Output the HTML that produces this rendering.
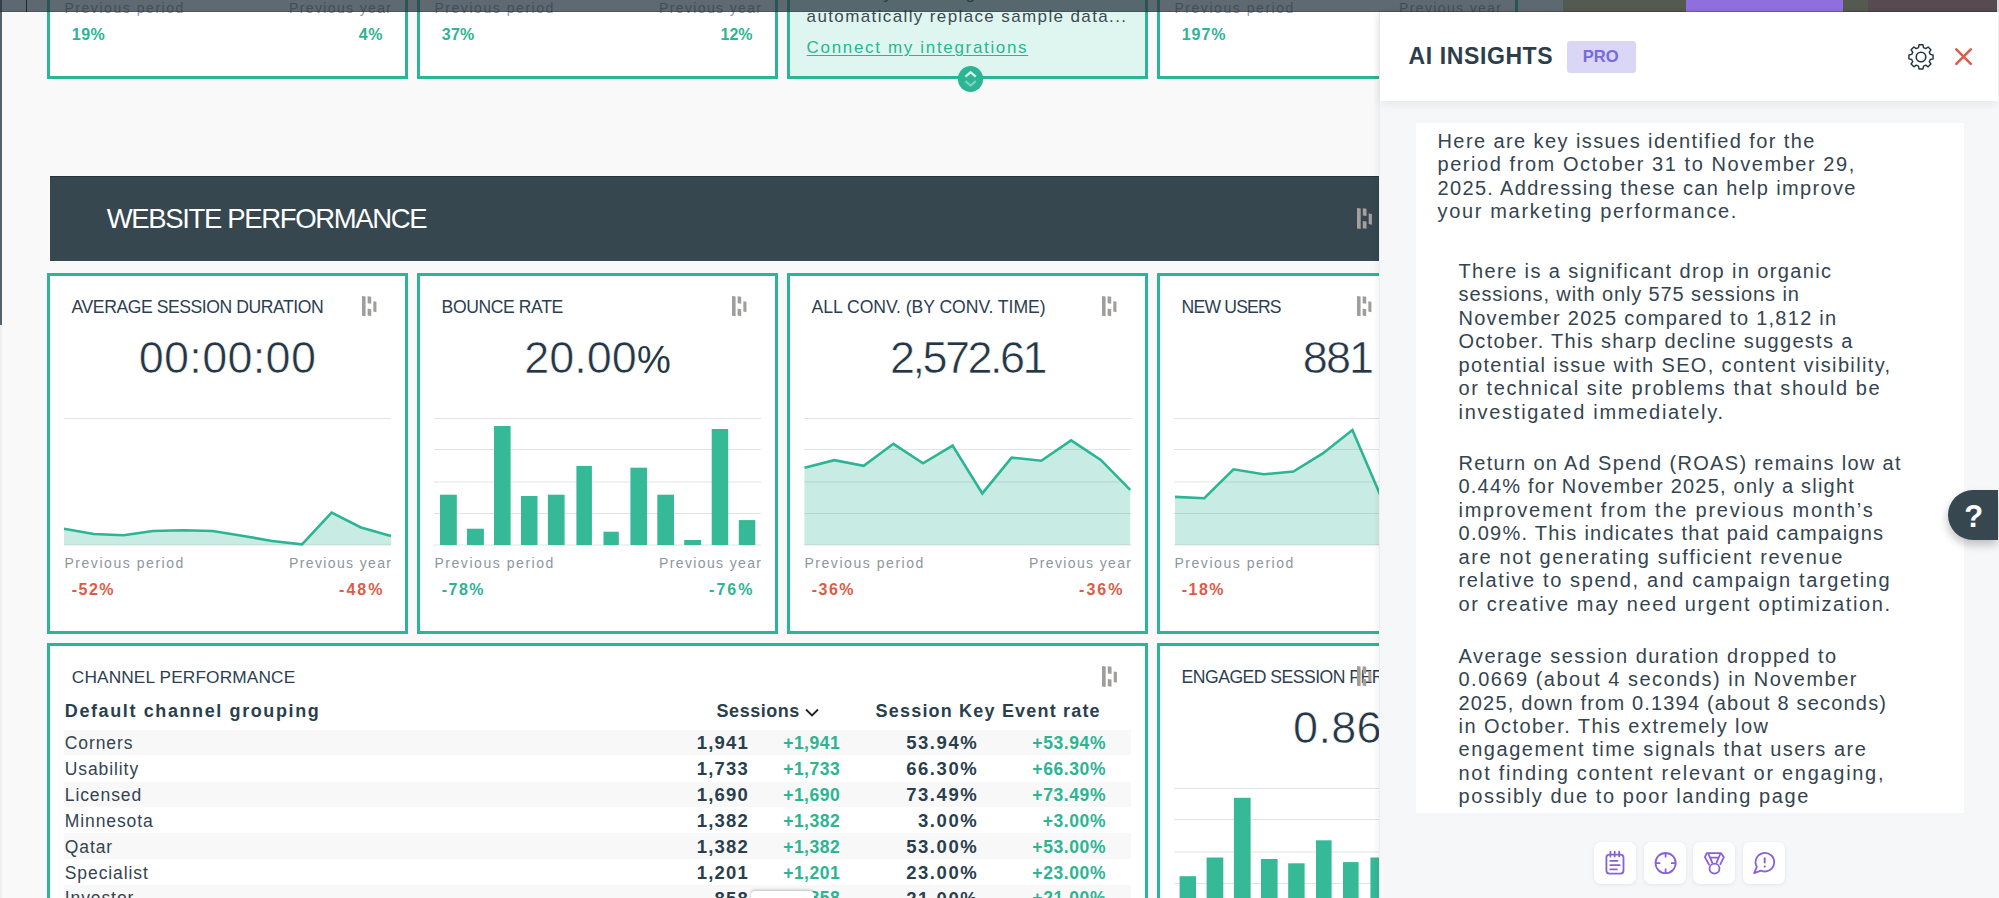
<!DOCTYPE html>
<html><head><meta charset="utf-8"><title>Dashboard</title>
<style>
*{box-sizing:border-box;margin:0;padding:0}
html,body{width:1999px;height:898px;overflow:hidden;background:#f9f9f9;font-family:"Liberation Sans", sans-serif;position:relative}
.t{position:absolute;white-space:pre;line-height:1}
.a{position:absolute}
.card{position:absolute;width:361px;height:361px;border:3px solid #2bb594;background:#fff}
</style></head><body>
<div class='a' style='left:0;top:0;width:1.6px;height:325px;background:#56626b'></div>
<div class='a' style='left:0;top:325px;width:1.6px;height:573px;background:#efefef'></div>
<div class='card' style='left:47px;top:-282px;background:#fff'></div>
<div class='t' style='left:64.40px;top:1.10px;font-size:14px;font-weight:400;color:#8d969e;letter-spacing:1.551px;'>Previous period</div>
<div class='t' style='left:71.80px;top:26.90px;font-size:16px;font-weight:700;color:#2db493;letter-spacing:0.484px;'>19%</div>
<div class='t' style='left:289.00px;top:1.10px;font-size:14px;font-weight:400;color:#8d969e;letter-spacing:1.367px;'>Previous year</div>
<div class='t' style='left:358.80px;top:26.90px;font-size:16px;font-weight:700;color:#2db493;letter-spacing:0.575px;'>4%</div>
<div class='card' style='left:417px;top:-282px;background:#fff'></div>
<div class='t' style='left:434.40px;top:1.10px;font-size:14px;font-weight:400;color:#8d969e;letter-spacing:1.551px;'>Previous period</div>
<div class='t' style='left:441.80px;top:26.90px;font-size:16px;font-weight:700;color:#2db493;letter-spacing:0.234px;'>37%</div>
<div class='t' style='left:659.00px;top:1.10px;font-size:14px;font-weight:400;color:#8d969e;letter-spacing:1.367px;'>Previous year</div>
<div class='t' style='left:720.50px;top:26.90px;font-size:16px;font-weight:700;color:#2db493;letter-spacing:-0.016px;'>12%</div>
<div class='card' style='left:787px;top:-282px;background:#dff5ef'></div>
<div class='t' style='left:806.60px;top:7.95px;font-size:17px;font-weight:400;color:#3d4a52;letter-spacing:1.377px;'>automatically replace sample data...</div>
<div class='t' style='left:883.50px;top:-15.45px;font-size:17px;font-weight:400;color:#3d4a52;letter-spacing:0.000px;'>y</div>
<div class='t' style='left:965.50px;top:-15.45px;font-size:17px;font-weight:400;color:#3d4a52;letter-spacing:0.000px;'>g</div>
<div class='t' style='left:806.60px;top:39.15px;font-size:17px;font-weight:400;color:#2bb594;letter-spacing:1.667px;text-decoration:underline;text-underline-offset:2px;'>Connect my integrations</div>
<div class='card' style='left:1157px;top:-282px;background:#fff'></div>
<div class='t' style='left:1174.40px;top:1.10px;font-size:14px;font-weight:400;color:#8d969e;letter-spacing:1.551px;'>Previous period</div>
<div class='t' style='left:1181.80px;top:26.90px;font-size:16px;font-weight:700;color:#2db493;letter-spacing:0.926px;'>197%</div>
<div class='t' style='left:1399.00px;top:1.10px;font-size:14px;font-weight:400;color:#8d969e;letter-spacing:1.367px;'>Previous year</div>
<div class='a' style='left:957.8px;top:66px;width:25.5px;height:25.5px;border-radius:50%;background:#2bb594'></div>
<svg class='a' style='left:957.8px;top:66px' width='26' height='26' viewBox='0 0 26 26'><path d='M7.4 10.7 L12.6 6.3 L17.8 10.7' fill='none' stroke='#d6f1e9' stroke-width='2.2'/><path d='M7.4 15.2 L12.6 19.5 L17.8 15.2' fill='none' stroke='#7fd3bd' stroke-width='2.2'/></svg>
<div class='a' style='left:50px;top:176px;width:1400px;height:85px;background:#37474f;border-top:1px solid #24343c'></div>
<div class='t' style='left:106.70px;top:204.82px;font-size:27.5px;font-weight:400;color:#ffffff;letter-spacing:-1.351px;'>WEBSITE PERFORMANCE</div>
<svg class='a' style='left:1357px;top:208px' width='16.0' height='22.0' viewBox='0 0 16 22'><g fill='#a5a09e'><polygon points='0,0 3.7,0.6 3.7,21 0,20.4'/><polygon points='5.8,0.2 9.5,0.8 9.5,8 5.8,7.4'/><polygon points='5.8,13 9.5,13.6 9.5,20.8 5.8,20.2'/><polygon points='11.7,5.4 14.9,6.0 14.9,16.7 11.7,16.099999999999998'/></g></svg>
<div class='card' style='left:47px;top:273px;background:#fff'></div>
<div class='t' style='left:71.60px;top:298.84px;font-size:17.6px;font-weight:400;color:#2c3e50;letter-spacing:-0.449px;'>AVERAGE SESSION DURATION</div>
<svg class='a' style='left:361.5px;top:296.3px' width='15.5' height='21.3' viewBox='0 0 16 22'><g fill='#a19d9b'><polygon points='0,0 3.7,0.6 3.7,21 0,20.4'/><polygon points='5.8,0.2 9.5,0.8 9.5,8 5.8,7.4'/><polygon points='5.8,13 9.5,13.6 9.5,20.8 5.8,20.2'/><polygon points='11.7,5.4 14.9,6.0 14.9,16.7 11.7,16.099999999999998'/></g></svg>
<div class='t val' style='left:47px;width:361px;top:335.05px;font-size:45px;color:#253746;text-align:center;letter-spacing:0.3px;-webkit-text-stroke:0.6px #fff'>00:00:00</div>
<svg class='a' style='left:64px;top:418px;overflow:visible' width='327' height='128' viewBox='0 0 327 128'>
<line x1='0' x2='327' y1='0.5' y2='0.5' stroke='#e3e3e3' stroke-width='1.2'/><line x1='0' x2='327' y1='127' y2='127' stroke='#e3e3e3' stroke-width='1.2'/>
<polygon points='0.0,127 0.0,110.7 29.7,116.0 59.5,117.2 89.0,113.0 119.0,112.3 148.6,113.0 178.0,117.7 208.0,123.0 238.0,126.3 267.6,94.7 297.0,109.5 327.0,118.0 327.0,127' fill='rgba(43,181,148,0.26)'/>
<polyline points='0.0,110.7 29.7,116.0 59.5,117.2 89.0,113.0 119.0,112.3 148.6,113.0 178.0,117.7 208.0,123.0 238.0,126.3 267.6,94.7 297.0,109.5 327.0,118.0' fill='none' stroke='#2bb594' stroke-width='2.6' stroke-linejoin='miter'/>
</svg>
<div class='t' style='left:64.40px;top:556.10px;font-size:14px;font-weight:400;color:#8d969e;letter-spacing:1.551px;'>Previous period</div>
<div class='t' style='left:71.80px;top:581.90px;font-size:16px;font-weight:700;color:#e05a47;letter-spacing:1.447px;'>-52%</div>
<div class='t' style='left:289.00px;top:556.10px;font-size:14px;font-weight:400;color:#8d969e;letter-spacing:1.367px;'>Previous year</div>
<div class='t' style='left:339.00px;top:581.90px;font-size:16px;font-weight:700;color:#e05a47;letter-spacing:2.047px;'>-48%</div>
<div class='card' style='left:417px;top:273px;background:#fff'></div>
<div class='t' style='left:441.60px;top:298.84px;font-size:17.6px;font-weight:400;color:#2c3e50;letter-spacing:-0.418px;'>BOUNCE RATE</div>
<svg class='a' style='left:731.5px;top:296.3px' width='15.5' height='21.3' viewBox='0 0 16 22'><g fill='#a19d9b'><polygon points='0,0 3.7,0.6 3.7,21 0,20.4'/><polygon points='5.8,0.2 9.5,0.8 9.5,8 5.8,7.4'/><polygon points='5.8,13 9.5,13.6 9.5,20.8 5.8,20.2'/><polygon points='11.7,5.4 14.9,6.0 14.9,16.7 11.7,16.099999999999998'/></g></svg>
<div class='t val' style='left:417px;width:361px;top:335.05px;font-size:45px;color:#253746;text-align:center;letter-spacing:0.0px;-webkit-text-stroke:0.6px #fff'>20.00<span style='font-size:38px;-webkit-text-stroke:0'>%</span></div>
<svg class='a' style='left:434px;top:418px;overflow:visible' width='327' height='128' viewBox='0 0 327 128'>
<line x1='0' x2='327' y1='0.5' y2='0.5' stroke='#e3e3e3' stroke-width='1.2'/><line x1='0' x2='327' y1='31.5' y2='31.5' stroke='#e3e3e3' stroke-width='1.2'/><line x1='0' x2='327' y1='64' y2='64' stroke='#e3e3e3' stroke-width='1.2'/><line x1='0' x2='327' y1='95.5' y2='95.5' stroke='#e3e3e3' stroke-width='1.2'/><line x1='0' x2='327' y1='127' y2='127' stroke='#e3e3e3' stroke-width='1.2'/><rect x='6.0' y='76.7' width='16.8' height='50.3' fill='#36b996'/><rect x='33.0' y='110.7' width='16.9' height='16.3' fill='#36b996'/><rect x='60.0' y='8.0' width='16.6' height='119.0' fill='#36b996'/><rect x='87.0' y='78.0' width='16.5' height='49.0' fill='#36b996'/><rect x='113.9' y='76.7' width='16.7' height='50.3' fill='#36b996'/><rect x='142.4' y='47.9' width='15.5' height='79.1' fill='#36b996'/><rect x='169.5' y='113.7' width='15.3' height='13.3' fill='#36b996'/><rect x='196.4' y='49.7' width='16.7' height='77.3' fill='#36b996'/><rect x='223.3' y='76.7' width='16.7' height='50.3' fill='#36b996'/><rect x='250.2' y='122.0' width='16.9' height='5.0' fill='#36b996'/><rect x='277.7' y='11.0' width='16.5' height='116.0' fill='#36b996'/><rect x='304.8' y='102.1' width='16.5' height='24.9' fill='#36b996'/></svg>
<div class='t' style='left:434.40px;top:556.10px;font-size:14px;font-weight:400;color:#8d969e;letter-spacing:1.551px;'>Previous period</div>
<div class='t' style='left:441.80px;top:581.90px;font-size:16px;font-weight:700;color:#2db493;letter-spacing:1.447px;'>-78%</div>
<div class='t' style='left:659.00px;top:556.10px;font-size:14px;font-weight:400;color:#8d969e;letter-spacing:1.367px;'>Previous year</div>
<div class='t' style='left:709.00px;top:581.90px;font-size:16px;font-weight:700;color:#2db493;letter-spacing:2.047px;'>-76%</div>
<div class='card' style='left:787px;top:273px;background:#fff'></div>
<div class='t' style='left:811.60px;top:298.84px;font-size:17.6px;font-weight:400;color:#2c3e50;letter-spacing:-0.042px;'>ALL CONV. (BY CONV. TIME)</div>
<svg class='a' style='left:1101.5px;top:296.3px' width='15.5' height='21.3' viewBox='0 0 16 22'><g fill='#a19d9b'><polygon points='0,0 3.7,0.6 3.7,21 0,20.4'/><polygon points='5.8,0.2 9.5,0.8 9.5,8 5.8,7.4'/><polygon points='5.8,13 9.5,13.6 9.5,20.8 5.8,20.2'/><polygon points='11.7,5.4 14.9,6.0 14.9,16.7 11.7,16.099999999999998'/></g></svg>
<div class='t val' style='left:787px;width:361px;top:335.05px;font-size:45px;color:#253746;text-align:center;letter-spacing:-2.5px;-webkit-text-stroke:0.6px #fff'>2,572.61</div>
<svg class='a' style='left:804px;top:418px;overflow:visible' width='327' height='128' viewBox='0 0 327 128'>
<line x1='0' x2='327' y1='0.5' y2='0.5' stroke='#e3e3e3' stroke-width='1.2'/><line x1='0' x2='327' y1='31.5' y2='31.5' stroke='#e3e3e3' stroke-width='1.2'/><line x1='0' x2='327' y1='64' y2='64' stroke='#e3e3e3' stroke-width='1.2'/><line x1='0' x2='327' y1='95.5' y2='95.5' stroke='#e3e3e3' stroke-width='1.2'/><line x1='0' x2='327' y1='127' y2='127' stroke='#e3e3e3' stroke-width='1.2'/>
<polygon points='0.5,127 0.5,49.7 30.4,42.2 59.7,47.8 89.4,25.8 119.0,45.3 148.6,27.6 178.3,75.4 207.6,39.6 237.3,42.7 267.1,22.4 296.8,41.9 326.2,71.9 326.2,127' fill='rgba(43,181,148,0.26)'/>
<polyline points='0.5,49.7 30.4,42.2 59.7,47.8 89.4,25.8 119.0,45.3 148.6,27.6 178.3,75.4 207.6,39.6 237.3,42.7 267.1,22.4 296.8,41.9 326.2,71.9' fill='none' stroke='#2bb594' stroke-width='2.6' stroke-linejoin='miter'/>
</svg>
<div class='t' style='left:804.40px;top:556.10px;font-size:14px;font-weight:400;color:#8d969e;letter-spacing:1.551px;'>Previous period</div>
<div class='t' style='left:811.80px;top:581.90px;font-size:16px;font-weight:700;color:#e05a47;letter-spacing:1.447px;'>-36%</div>
<div class='t' style='left:1029.00px;top:556.10px;font-size:14px;font-weight:400;color:#8d969e;letter-spacing:1.367px;'>Previous year</div>
<div class='t' style='left:1079.00px;top:581.90px;font-size:16px;font-weight:700;color:#e05a47;letter-spacing:2.047px;'>-36%</div>
<div class='card' style='left:1157px;top:273px;background:#fff'></div>
<div class='t' style='left:1181.60px;top:298.84px;font-size:17.6px;font-weight:400;color:#2c3e50;letter-spacing:-0.820px;'>NEW USERS</div>
<svg class='a' style='left:1357.2px;top:296.3px' width='15.5' height='21.3' viewBox='0 0 16 22'><g fill='#a19d9b'><polygon points='0,0 3.7,0.6 3.7,21 0,20.4'/><polygon points='5.8,0.2 9.5,0.8 9.5,8 5.8,7.4'/><polygon points='5.8,13 9.5,13.6 9.5,20.8 5.8,20.2'/><polygon points='11.7,5.4 14.9,6.0 14.9,16.7 11.7,16.099999999999998'/></g></svg>
<div class='t val' style='left:1157px;width:361px;top:335.05px;font-size:45px;color:#253746;text-align:center;letter-spacing:-1.8px;-webkit-text-stroke:0.6px #fff'>881</div>
<svg class='a' style='left:1174px;top:418px;overflow:visible' width='327' height='128' viewBox='0 0 327 128'>
<line x1='0' x2='327' y1='0.5' y2='0.5' stroke='#e3e3e3' stroke-width='1.2'/><line x1='0' x2='327' y1='31.5' y2='31.5' stroke='#e3e3e3' stroke-width='1.2'/><line x1='0' x2='327' y1='64' y2='64' stroke='#e3e3e3' stroke-width='1.2'/><line x1='0' x2='327' y1='95.5' y2='95.5' stroke='#e3e3e3' stroke-width='1.2'/><line x1='0' x2='327' y1='127' y2='127' stroke='#e3e3e3' stroke-width='1.2'/>
<polygon points='1.0,127 1.0,78.9 30.3,80.2 59.5,51.3 89.5,56.3 119.3,53.5 148.8,35.4 178.4,12.0 208.0,81.0 237.0,62.0 267.0,52.0 297.0,42.0 327.0,52.0 327.0,127' fill='rgba(43,181,148,0.26)'/>
<polyline points='1.0,78.9 30.3,80.2 59.5,51.3 89.5,56.3 119.3,53.5 148.8,35.4 178.4,12.0 208.0,81.0 237.0,62.0 267.0,52.0 297.0,42.0 327.0,52.0' fill='none' stroke='#2bb594' stroke-width='2.6' stroke-linejoin='miter'/>
</svg>
<div class='t' style='left:1174.40px;top:556.10px;font-size:14px;font-weight:400;color:#8d969e;letter-spacing:1.551px;'>Previous period</div>
<div class='t' style='left:1181.80px;top:581.90px;font-size:16px;font-weight:700;color:#e05a47;letter-spacing:1.447px;'>-18%</div>
<div class='t' style='left:1399.00px;top:556.10px;font-size:14px;font-weight:400;color:#8d969e;letter-spacing:1.367px;'>Previous year</div>
<div class='t' style='left:1449.00px;top:581.90px;font-size:16px;font-weight:700;color:#e05a47;letter-spacing:2.047px;'>-20%</div>
<div class='a' style='left:47px;top:643px;width:1101px;height:400px;border:3px solid #2bb594;background:#fff'></div>
<div class='t' style='left:71.80px;top:668.59px;font-size:17.3px;font-weight:400;color:#2c3e50;letter-spacing:0.124px;'>CHANNEL PERFORMANCE</div>
<svg class='a' style='left:1101.5px;top:666.4px' width='16.0' height='22.0' viewBox='0 0 16 22'><g fill='#a19d9b'><polygon points='0,0 3.7,0.6 3.7,21 0,20.4'/><polygon points='5.8,0.2 9.5,0.8 9.5,8 5.8,7.4'/><polygon points='5.8,13 9.5,13.6 9.5,20.8 5.8,20.2'/><polygon points='11.7,5.4 14.9,6.0 14.9,16.7 11.7,16.099999999999998'/></g></svg>
<div class='t' style='left:64.80px;top:701.70px;font-size:18px;font-weight:700;color:#2a3f4d;letter-spacing:1.608px;'>Default channel grouping</div>
<div class='t' style='left:716.60px;top:701.50px;font-size:18px;font-weight:700;color:#2a3f4d;letter-spacing:0.508px;'>Sessions</div>
<svg class='a' style='left:804px;top:707px' width='16' height='11' viewBox='0 0 16 11'><path d='M2 2.5 L8 8.5 L14 2.5' fill='none' stroke='#222' stroke-width='1.8'/></svg>
<div class='t' style='left:875.60px;top:701.70px;font-size:18px;font-weight:700;color:#2a3f4d;letter-spacing:1.186px;'>Session Key Event rate</div>
<div class='a' style='left:64px;top:729.8px;width:1067px;height:25.7px;background:#f8f8f8'></div>
<div class='t' style='left:64.80px;top:735.12px;font-size:17.5px;font-weight:400;color:#33444f;letter-spacing:0.900px;'>Corners</div>
<div class='t' style='left:696.80px;top:734.27px;font-size:18.5px;font-weight:700;color:#2a3f4d;letter-spacing:1.150px;'>1,941</div>
<div class='t' style='left:783.18px;top:735.12px;font-size:17.5px;font-weight:700;color:#2db493;letter-spacing:0.500px;'>+1,941</div>
<div class='t' style='left:906.20px;top:734.27px;font-size:18.5px;font-weight:700;color:#2a3f4d;letter-spacing:1.550px;'>53.94%</div>
<div class='t' style='left:1032.32px;top:735.12px;font-size:17.5px;font-weight:700;color:#2db493;letter-spacing:0.600px;'>+53.94%</div>
<div class='t' style='left:64.80px;top:761.00px;font-size:17.5px;font-weight:400;color:#33444f;letter-spacing:0.900px;'>Usability</div>
<div class='t' style='left:696.80px;top:760.15px;font-size:18.5px;font-weight:700;color:#2a3f4d;letter-spacing:1.150px;'>1,733</div>
<div class='t' style='left:783.18px;top:761.00px;font-size:17.5px;font-weight:700;color:#2db493;letter-spacing:0.500px;'>+1,733</div>
<div class='t' style='left:906.20px;top:760.15px;font-size:18.5px;font-weight:700;color:#2a3f4d;letter-spacing:1.550px;'>66.30%</div>
<div class='t' style='left:1032.32px;top:761.00px;font-size:17.5px;font-weight:700;color:#2db493;letter-spacing:0.600px;'>+66.30%</div>
<div class='a' style='left:64px;top:781.56px;width:1067px;height:25.7px;background:#f8f8f8'></div>
<div class='t' style='left:64.80px;top:786.88px;font-size:17.5px;font-weight:400;color:#33444f;letter-spacing:0.900px;'>Licensed</div>
<div class='t' style='left:696.80px;top:786.03px;font-size:18.5px;font-weight:700;color:#2a3f4d;letter-spacing:1.150px;'>1,690</div>
<div class='t' style='left:783.18px;top:786.88px;font-size:17.5px;font-weight:700;color:#2db493;letter-spacing:0.500px;'>+1,690</div>
<div class='t' style='left:906.20px;top:786.03px;font-size:18.5px;font-weight:700;color:#2a3f4d;letter-spacing:1.550px;'>73.49%</div>
<div class='t' style='left:1032.32px;top:786.88px;font-size:17.5px;font-weight:700;color:#2db493;letter-spacing:0.600px;'>+73.49%</div>
<div class='t' style='left:64.80px;top:812.76px;font-size:17.5px;font-weight:400;color:#33444f;letter-spacing:0.900px;'>Minnesota</div>
<div class='t' style='left:696.80px;top:811.91px;font-size:18.5px;font-weight:700;color:#2a3f4d;letter-spacing:1.150px;'>1,382</div>
<div class='t' style='left:783.18px;top:812.76px;font-size:17.5px;font-weight:700;color:#2db493;letter-spacing:0.500px;'>+1,382</div>
<div class='t' style='left:918.03px;top:811.91px;font-size:18.5px;font-weight:700;color:#2a3f4d;letter-spacing:1.550px;'>3.00%</div>
<div class='t' style='left:1042.66px;top:812.76px;font-size:17.5px;font-weight:700;color:#2db493;letter-spacing:0.600px;'>+3.00%</div>
<div class='a' style='left:64px;top:833.3199999999999px;width:1067px;height:25.7px;background:#f8f8f8'></div>
<div class='t' style='left:64.80px;top:838.64px;font-size:17.5px;font-weight:400;color:#33444f;letter-spacing:0.900px;'>Qatar</div>
<div class='t' style='left:696.80px;top:837.79px;font-size:18.5px;font-weight:700;color:#2a3f4d;letter-spacing:1.150px;'>1,382</div>
<div class='t' style='left:783.18px;top:838.64px;font-size:17.5px;font-weight:700;color:#2db493;letter-spacing:0.500px;'>+1,382</div>
<div class='t' style='left:906.20px;top:837.79px;font-size:18.5px;font-weight:700;color:#2a3f4d;letter-spacing:1.550px;'>53.00%</div>
<div class='t' style='left:1032.32px;top:838.64px;font-size:17.5px;font-weight:700;color:#2db493;letter-spacing:0.600px;'>+53.00%</div>
<div class='t' style='left:64.80px;top:864.52px;font-size:17.5px;font-weight:400;color:#33444f;letter-spacing:0.900px;'>Specialist</div>
<div class='t' style='left:696.80px;top:863.67px;font-size:18.5px;font-weight:700;color:#2a3f4d;letter-spacing:1.150px;'>1,201</div>
<div class='t' style='left:783.18px;top:864.52px;font-size:17.5px;font-weight:700;color:#2db493;letter-spacing:0.500px;'>+1,201</div>
<div class='t' style='left:906.20px;top:863.67px;font-size:18.5px;font-weight:700;color:#2a3f4d;letter-spacing:1.550px;'>23.00%</div>
<div class='t' style='left:1032.32px;top:864.52px;font-size:17.5px;font-weight:700;color:#2db493;letter-spacing:0.600px;'>+23.00%</div>
<div class='a' style='left:64px;top:885.0799999999999px;width:1067px;height:25.7px;background:#f8f8f8'></div>
<div class='t' style='left:64.80px;top:890.40px;font-size:17.5px;font-weight:400;color:#33444f;letter-spacing:0.900px;'>Investor</div>
<div class='t' style='left:714.53px;top:889.55px;font-size:18.5px;font-weight:700;color:#2a3f4d;letter-spacing:1.150px;'>858</div>
<div class='t' style='left:798.78px;top:890.40px;font-size:17.5px;font-weight:700;color:#2db493;letter-spacing:0.500px;'>+858</div>
<div class='t' style='left:906.20px;top:889.55px;font-size:18.5px;font-weight:700;color:#2a3f4d;letter-spacing:1.550px;'>21.00%</div>
<div class='t' style='left:1032.32px;top:890.40px;font-size:17.5px;font-weight:700;color:#2db493;letter-spacing:0.600px;'>+21.00%</div>
<div class='a' style='left:751px;top:890.5px;width:63px;height:20px;background:#fff;border-radius:4px;box-shadow:0 -1px 3px rgba(0,0,0,0.25)'></div>
<div class='card' style='left:1157px;top:643px;background:#fff'></div>
<div class='t' style='left:1181.60px;top:668.84px;font-size:17.6px;font-weight:400;color:#2c3e50;letter-spacing:-0.519px;'>ENGAGED SESSION PER USER</div>
<svg class='a' style='left:1357.2px;top:666.3px' width='15.5' height='21.3' viewBox='0 0 16 22'><g fill='#a19d9b'><polygon points='0,0 3.7,0.6 3.7,21 0,20.4'/><polygon points='5.8,0.2 9.5,0.8 9.5,8 5.8,7.4'/><polygon points='5.8,13 9.5,13.6 9.5,20.8 5.8,20.2'/><polygon points='11.7,5.4 14.9,6.0 14.9,16.7 11.7,16.099999999999998'/></g></svg>
<div class='t val' style='left:1157px;width:361px;top:705.05px;font-size:45px;color:#253746;text-align:center;letter-spacing:0.3px;-webkit-text-stroke:0.6px #fff'>0.86</div>
<svg class='a' style='left:1174px;top:788px;overflow:visible' width='327' height='128' viewBox='0 0 327 128'>
<line x1='0' x2='327' y1='0.5' y2='0.5' stroke='#e3e3e3' stroke-width='1.2'/><line x1='0' x2='327' y1='31.5' y2='31.5' stroke='#e3e3e3' stroke-width='1.2'/><line x1='0' x2='327' y1='64' y2='64' stroke='#e3e3e3' stroke-width='1.2'/><line x1='0' x2='327' y1='95.5' y2='95.5' stroke='#e3e3e3' stroke-width='1.2'/><line x1='0' x2='327' y1='127' y2='127' stroke='#e3e3e3' stroke-width='1.2'/><rect x='5.6' y='88.2' width='16.4' height='38.8' fill='#36b996'/><rect x='32.6' y='69.5' width='16.7' height='57.5' fill='#36b996'/><rect x='59.9' y='9.8' width='16.7' height='117.2' fill='#36b996'/><rect x='87.0' y='71.0' width='16.6' height='56.0' fill='#36b996'/><rect x='114.2' y='75.3' width='16.4' height='51.7' fill='#36b996'/><rect x='142.0' y='52.3' width='15.6' height='74.7' fill='#36b996'/><rect x='169.0' y='74.1' width='15.6' height='52.9' fill='#36b996'/><rect x='196.4' y='69.5' width='16.6' height='57.5' fill='#36b996'/></svg>
<div class='a' style='left:0;top:0;width:1999px;height:11.5px;background:rgba(40,55,65,0.75)'></div>
<div class='a' style='left:25.5px;top:0;width:1.2px;height:11.5px;background:#1f2a30'></div>
<div class='a' style='left:1563px;top:0;width:123px;height:11.5px;background:#545a50'></div>
<div class='a' style='left:1686px;top:0;width:157px;height:11.5px;background:#8e6fdd'></div>
<div class='a' style='left:1843px;top:0;width:25px;height:11.5px;background:#545a50'></div>
<div class='a' style='left:1868px;top:0;width:129px;height:11.5px;background:#574a50'></div>
<div class='a' style='left:1997px;top:0;width:2px;height:11.5px;background:#dcd8da'></div>
<div class='a' style='left:0;top:10.5px;width:1997px;height:1.2px;background:rgba(10,25,20,0.22)'></div>
<div class='a' style='left:1379px;top:11.5px;width:619px;height:887px;background:#f6f7f9;box-shadow:-2px 0 5px rgba(0,0,0,0.06);border-left:1px solid rgba(0,0,0,0.035)'></div>
<div class='a' style='left:1380px;top:11.5px;width:618px;height:89.5px;background:#fff;box-shadow:0 3px 10px rgba(0,0,0,0.07)'></div>
<div class='a' style='left:1415.8px;top:122.6px;width:547.8px;height:690px;background:#fff'></div>
<div class='t' style='left:1408.60px;top:45.05px;font-size:23px;font-weight:700;color:#2c3e4a;letter-spacing:0.598px;'>AI INSIGHTS</div>
<div class='a' style='left:1566.5px;top:41px;width:69.5px;height:31.5px;background:#d9d6f6;border-radius:3px'></div>
<div class='t' style='left:1582.70px;top:48.18px;font-size:16.5px;font-weight:700;color:#776ae0;letter-spacing:0.117px;'>PRO</div>
<svg class='a' style='left:1907px;top:42.5px' width='28' height='28' viewBox='-14 -14 28 28'>
<path d='M-2.2,-12.4 L2.2,-12.4 L2.8,-9.3 L5.3,-8.2 L7.9,-10 L11,-6.9 L9.2,-4.3 L10.3,-1.8 L13.4,-1.2 L13.4,3.2 L10.3,3.8 L9.2,6.3 L11,8.9 L7.9,12 L5.3,10.2 L2.8,11.3 L2.2,14.4 L-2.2,14.4 L-2.8,11.3 L-5.3,10.2 L-7.9,12 L-11,8.9 L-9.2,6.3 L-10.3,3.8 L-13.4,3.2 L-13.4,-1.2 L-10.3,-1.8 L-9.2,-4.3 L-11,-6.9 L-7.9,-10 L-5.3,-8.2 L-2.8,-9.3 Z' transform='translate(0,-1) scale(0.9)' fill='none' stroke='#22343f' stroke-width='1.6' stroke-linejoin='round'/>
<circle cx='0' cy='0' r='4.8' fill='none' stroke='#22343f' stroke-width='1.6'/></svg>
<svg class='a' style='left:1954px;top:47px' width='19' height='19' viewBox='0 0 19 19'><path d='M2.3 2.3 L16.8 16.8 M16.8 2.3 L2.3 16.8' stroke='#e05a47' stroke-width='2.6' stroke-linecap='round'/></svg>
<div class='t' style='left:1437.50px;top:131.00px;font-size:20px;font-weight:400;color:#34444f;letter-spacing:1.413px;'>Here are key issues identified for the</div>
<div class='t' style='left:1437.50px;top:154.47px;font-size:20px;font-weight:400;color:#34444f;letter-spacing:1.560px;'>period from October 31 to November 29,</div>
<div class='t' style='left:1437.50px;top:177.94px;font-size:20px;font-weight:400;color:#34444f;letter-spacing:1.342px;'>2025. Addressing these can help improve</div>
<div class='t' style='left:1437.50px;top:201.41px;font-size:20px;font-weight:400;color:#34444f;letter-spacing:1.663px;'>your marketing performance.</div>
<div class='t' style='left:1458.50px;top:260.70px;font-size:20px;font-weight:400;color:#34444f;letter-spacing:1.387px;'>There is a significant drop in organic</div>
<div class='t' style='left:1458.50px;top:284.17px;font-size:20px;font-weight:400;color:#34444f;letter-spacing:0.890px;'>sessions, with only 575 sessions in</div>
<div class='t' style='left:1458.50px;top:307.64px;font-size:20px;font-weight:400;color:#34444f;letter-spacing:1.271px;'>November 2025 compared to 1,812 in</div>
<div class='t' style='left:1458.50px;top:331.11px;font-size:20px;font-weight:400;color:#34444f;letter-spacing:1.308px;'>October. This sharp decline suggests a</div>
<div class='t' style='left:1458.50px;top:354.58px;font-size:20px;font-weight:400;color:#34444f;letter-spacing:1.354px;'>potential issue with SEO, content visibility,</div>
<div class='t' style='left:1458.50px;top:378.05px;font-size:20px;font-weight:400;color:#34444f;letter-spacing:1.580px;'>or technical site problems that should be</div>
<div class='t' style='left:1458.50px;top:401.52px;font-size:20px;font-weight:400;color:#34444f;letter-spacing:1.730px;'>investigated immediately.</div>
<div class='t' style='left:1458.50px;top:453.00px;font-size:20px;font-weight:400;color:#34444f;letter-spacing:1.329px;'>Return on Ad Spend (ROAS) remains low at</div>
<div class='t' style='left:1458.50px;top:476.47px;font-size:20px;font-weight:400;color:#34444f;letter-spacing:1.219px;'>0.44% for November 2025, only a slight</div>
<div class='t' style='left:1458.50px;top:499.94px;font-size:20px;font-weight:400;color:#34444f;letter-spacing:1.759px;'>improvement from the previous month’s</div>
<div class='t' style='left:1458.50px;top:523.41px;font-size:20px;font-weight:400;color:#34444f;letter-spacing:1.258px;'>0.09%. This indicates that paid campaigns</div>
<div class='t' style='left:1458.50px;top:546.88px;font-size:20px;font-weight:400;color:#34444f;letter-spacing:1.656px;'>are not generating sufficient revenue</div>
<div class='t' style='left:1458.50px;top:570.35px;font-size:20px;font-weight:400;color:#34444f;letter-spacing:1.607px;'>relative to spend, and campaign targeting</div>
<div class='t' style='left:1458.50px;top:593.82px;font-size:20px;font-weight:400;color:#34444f;letter-spacing:1.619px;'>or creative may need urgent optimization.</div>
<div class='t' style='left:1458.50px;top:645.60px;font-size:20px;font-weight:400;color:#34444f;letter-spacing:1.505px;'>Average session duration dropped to</div>
<div class='t' style='left:1458.50px;top:669.07px;font-size:20px;font-weight:400;color:#34444f;letter-spacing:1.490px;'>0.0669 (about 4 seconds) in November</div>
<div class='t' style='left:1458.50px;top:692.54px;font-size:20px;font-weight:400;color:#34444f;letter-spacing:1.183px;'>2025, down from 0.1394 (about 8 seconds)</div>
<div class='t' style='left:1458.50px;top:716.01px;font-size:20px;font-weight:400;color:#34444f;letter-spacing:1.448px;'>in October. This extremely low</div>
<div class='t' style='left:1458.50px;top:739.48px;font-size:20px;font-weight:400;color:#34444f;letter-spacing:1.546px;'>engagement time signals that users are</div>
<div class='t' style='left:1458.50px;top:762.95px;font-size:20px;font-weight:400;color:#34444f;letter-spacing:1.702px;'>not finding content relevant or engaging,</div>
<div class='t' style='left:1458.50px;top:786.42px;font-size:20px;font-weight:400;color:#34444f;letter-spacing:1.584px;'>possibly due to poor landing page</div>
<div class='a' style='left:1594px;top:842px;width:42px;height:42px;background:#fff;border-radius:7px;box-shadow:0 1px 4px rgba(0,0,0,0.08)'></div>
<div class='a' style='left:1643.5px;top:842px;width:42px;height:42px;background:#fff;border-radius:7px;box-shadow:0 1px 4px rgba(0,0,0,0.08)'></div>
<div class='a' style='left:1693px;top:842px;width:42px;height:42px;background:#fff;border-radius:7px;box-shadow:0 1px 4px rgba(0,0,0,0.08)'></div>
<div class='a' style='left:1743px;top:842px;width:42px;height:42px;background:#fff;border-radius:7px;box-shadow:0 1px 4px rgba(0,0,0,0.08)'></div>
<svg class='a' style='left:1594px;top:842px' width='42' height='42' viewBox='0 0 42 42'>
<rect x='12.4' y='12.6' width='17.1' height='19' rx='3' fill='none' stroke='#8662d9' stroke-width='1.8'/>
<path d='M16.4 9.6v5 M20.7 9.6v5 M25.2 9.6v5 M16.3 18.9h7.2 M16.3 23.2h9.4 M16.3 27.4h6.6' stroke='#8662d9' stroke-width='1.8' stroke-linecap='round'/></svg>
<svg class='a' style='left:1643.5px;top:842px' width='42' height='42' viewBox='0 0 42 42'>
<circle cx='21.6' cy='21.1' r='10.1' fill='none' stroke='#8662d9' stroke-width='1.8'/>
<path d='M21.6 11v4.4 M21.6 26.6v4.5 M11.5 21.1h4.8 M27 21.1h4.7' stroke='#8662d9' stroke-width='1.8'/></svg>
<svg class='a' style='left:1693px;top:842px' width='42' height='42' viewBox='0 0 42 42'>
<path d='M16 22.5 L11.9 15.1 L13.8 11.2 L28.1 11.2 L30.9 15.2 L27.4 22.2' fill='none' stroke='#8662d9' stroke-width='1.8' stroke-linejoin='round' stroke-linecap='round'/>
<path d='M15.4 12 L19.2 20.6 M27.2 12 L23.6 20.6 M17.6 15.6 H25.2' fill='none' stroke='#8662d9' stroke-width='1.8' stroke-linecap='round'/>
<circle cx='21.5' cy='26.6' r='5' fill='none' stroke='#8662d9' stroke-width='1.8'/></svg>
<svg class='a' style='left:1743px;top:842px' width='42' height='42' viewBox='0 0 42 42'>
<path d='M17.97 28.6 A9.3 9.3 0 1 0 13.85 24.85 L11.1 31.1 Z' fill='none' stroke='#8662d9' stroke-width='1.8' stroke-linejoin='round'/>
<path d='M21.7 16.2v4.4' stroke='#8662d9' stroke-width='1.9' stroke-linecap='round'/><circle cx='21.7' cy='24.6' r='1.1' fill='#8662d9'/></svg>
<div class='a' style='left:1948px;top:489.5px;width:49.5px;height:50.5px;background:#37474f;border-radius:25px 0 0 25px;box-shadow:-1px 5px 9px rgba(0,0,0,0.22)'></div>
<div class='t' style='left:1964.30px;top:500.65px;font-size:31px;font-weight:700;color:#ffffff;letter-spacing:0.000px;'>?</div>
</body></html>
